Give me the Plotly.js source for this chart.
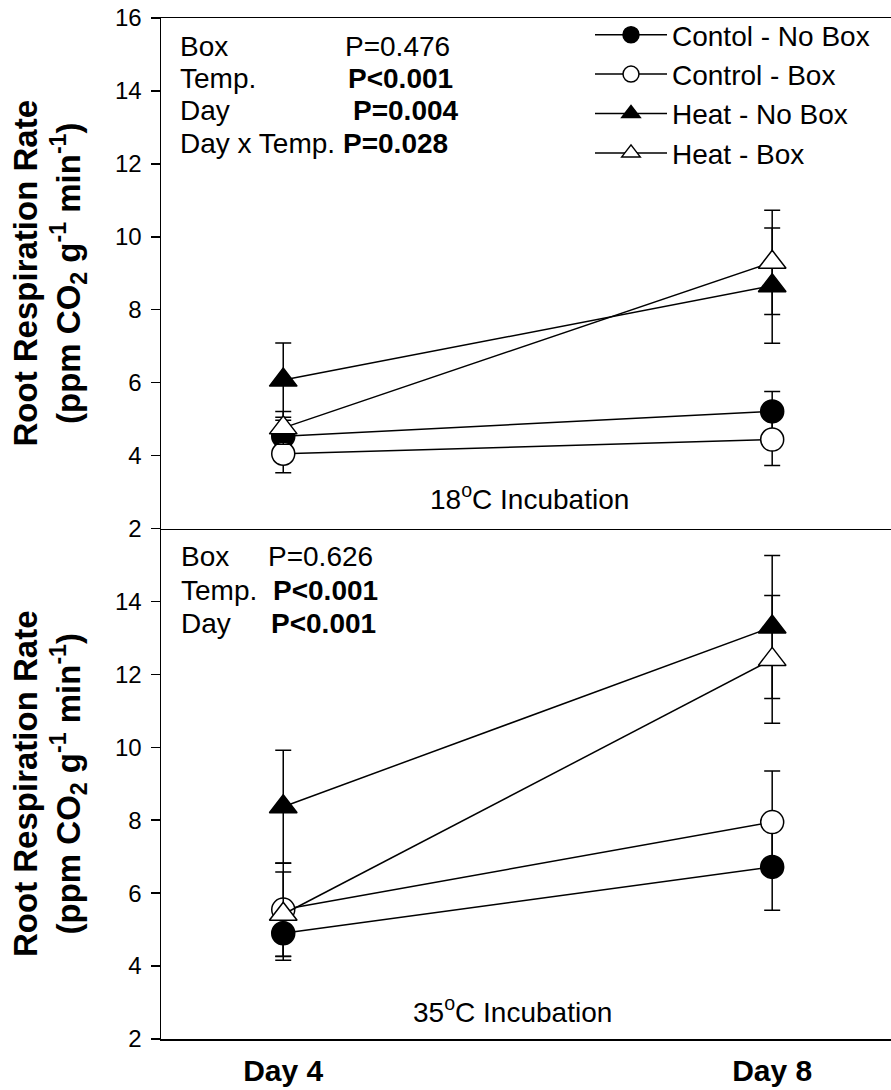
<!DOCTYPE html>
<html>
<head>
<meta charset="utf-8">
<script src="https://cdn.plot.ly/plotly-3.0.1.min.js"></script>
<style>html,body{margin:0;padding:0;background:#fff;}</style>
</head>
<body>
<div id="chart" style="width:891px;height:1090px;"></div>
<script>
// Sampling days (x categories)
const days = ['Day 4', 'Day 8'];
const seriesNames = ['Contol - No Box', 'Control - Box', 'Heat - No Box', 'Heat - Box'];

// 18 °C incubation: mean root respiration and standard error
const ctlNoBox18 = [4.53, 5.21];
const ctlNoBox18Se = [0.44, 0.55];
const ctlBox18 = [4.05, 4.44];
const ctlBox18Se = [0.52, 0.71];
const heatNoBox18 = [6.07, 8.66];
const heatNoBox18Se = [1.02, 1.58];
const heatBox18 = [4.76, 9.30];
const heatBox18Se = [0.45, 1.43];

// 35 °C incubation
const ctlNoBox35 = [4.90, 6.72];
const ctlNoBox35Se = [0.74, 1.19];
const ctlBox35 = [5.55, 7.95];
const ctlBox35Se = [1.28, 1.40];
const heatNoBox35 = [8.37, 13.30];
const heatNoBox35Se = [1.55, 1.96];
const heatBox35 = [5.42, 12.41];
const heatBox35Se = [1.16, 1.75];

const topTicks = [2, 4, 6, 8, 10, 12, 14, 16];
const bottomTicks = [2, 4, 6, 8, 10, 12, 14];

const FONT = 'Liberation Sans, Arial, Helvetica, sans-serif';

const styles = [
  {symbol: 'circle', fill: '#000000', size: 23},
  {symbol: 'circle', fill: '#ffffff', size: 23},
  {symbol: 'triangle-up', fill: '#000000', size: 24},
  {symbol: 'triangle-up', fill: '#ffffff', size: 24}
];

function makeTrace(i, y, se, xa, ya, showLegend) {
  const s = styles[i];
  return {
    type: 'scatter', mode: 'lines+markers',
    x: days, y: y, name: seriesNames[i],
    xaxis: xa, yaxis: ya, showlegend: showLegend,
    line: {color: '#000000', width: 1.5},
    marker: {symbol: s.symbol, size: s.size, color: s.fill, line: {color: '#000000', width: 1.5}},
    error_y: {type: 'data', array: se, visible: true, color: '#000000', thickness: 1.5, width: 8},
    cliponaxis: false, hoverinfo: 'skip'
  };
}

const data = [
  makeTrace(0, ctlNoBox18, ctlNoBox18Se, 'x2', 'y2', true),
  makeTrace(1, ctlBox18, ctlBox18Se, 'x2', 'y2', true),
  makeTrace(2, heatNoBox18, heatNoBox18Se, 'x2', 'y2', true),
  makeTrace(3, heatBox18, heatBox18Se, 'x2', 'y2', true),
  makeTrace(0, ctlNoBox35, ctlNoBox35Se, 'x', 'y', false),
  makeTrace(1, ctlBox35, ctlBox35Se, 'x', 'y', false),
  makeTrace(2, heatNoBox35, heatNoBox35Se, 'x', 'y', false),
  makeTrace(3, heatBox35, heatBox35Se, 'x', 'y', false)
];

const yTitle = '<b>Root Respiration Rate</b><br><b>(ppm CO<sub>2</sub> g<sup>-1</sup> min<sup>-1</sup>)</b>';

function yAxis(domain, ticks, anchor) {
  return {
    domain: domain, anchor: anchor, range: [2, 16],
    tickmode: 'array', tickvals: ticks, ticktext: ticks.map(String),
    ticks: 'outside', ticklen: 9, tickwidth: 1.5, tickcolor: '#000',
    showline: true, linecolor: '#000', linewidth: 1.5,
    showgrid: false, zeroline: false,
    tickfont: {family: FONT, size: 24, color: '#000'},
    ticklabelstandoff: 4,
    title: {text: yTitle, font: {family: FONT, size: 33, color: '#000'}, standoff: 24}
  };
}

// Paper coordinates from pixel positions inside the 891x1090 page
const L = 161, R = 891, T = 18, B = 1039;
const px = v => (v - L) / (R - L);
const py = v => (B - v) / (B - T);

function note(text, x, y, anchor) {
  return {text: text, xref: 'paper', yref: 'paper', x: px(x), y: py(y),
    xanchor: anchor || 'left', yanchor: 'middle', showarrow: false,
    font: {family: FONT, size: 28, color: '#000'}};
}

const annotations = [
  note('Box', 178, 47), note('P=0.476', 343, 47),
  note('Temp.', 178, 79), note('<b>P&lt;0.001</b>', 346, 79),
  note('Day', 178, 111), note('<b>P=0.004</b>', 351, 111),
  note('Day x Temp.', 178, 143), note('<b>P=0.028</b>', 341, 143),
  note('18<sup>o</sup>C Incubation', 529, 497, 'center'),
  note('Box', 179, 556), note('P=0.626', 266, 556),
  note('Temp.', 179, 590), note('<b>P&lt;0.001</b>', 271, 590),
  note('Day', 179, 623), note('<b>P&lt;0.001</b>', 269, 623),
  note('35<sup>o</sup>C Incubation', 512, 1010, 'center')
];

const layout = {
  width: 891, height: 1090,
  margin: {l: L, r: 891 - R, t: T, b: 1090 - B, pad: 0},
  paper_bgcolor: '#fff', plot_bgcolor: '#fff',
  font: {family: FONT, color: '#000'},
  showlegend: true,
  legend: {
    x: px(590), y: py(10), xanchor: 'left', yanchor: 'top',
    bgcolor: 'rgba(0,0,0,0)', borderwidth: 0,
    font: {family: FONT, size: 28, color: '#000'},
    itemwidth: 72, tracegroupgap: 0
  },
  xaxis: {
    domain: [0, 1], anchor: 'y', range: [-0.25, 1.243], type: 'category',
    showline: true, linecolor: '#000', linewidth: 1.5, ticks: '',
    showgrid: false, zeroline: false,
    tickfont: {family: FONT, size: 30, color: '#000', weight: 'bold'},
    ticklabelstandoff: 4
  },
  xaxis2: {
    domain: [0, 1], anchor: 'y2', matches: 'x', type: 'category',
    showline: true, mirror: true, linecolor: '#000', linewidth: 1.5, ticks: '',
    showticklabels: false, showgrid: false, zeroline: false
  },
  yaxis: yAxis([0, 0.5], bottomTicks, 'x'),
  yaxis2: yAxis([0.5, 1], topTicks, 'x2'),
  annotations: annotations
};

Plotly.newPlot('chart', data, layout, {staticPlot: true, displayModeBar: false});
</script>
</body>
</html>
